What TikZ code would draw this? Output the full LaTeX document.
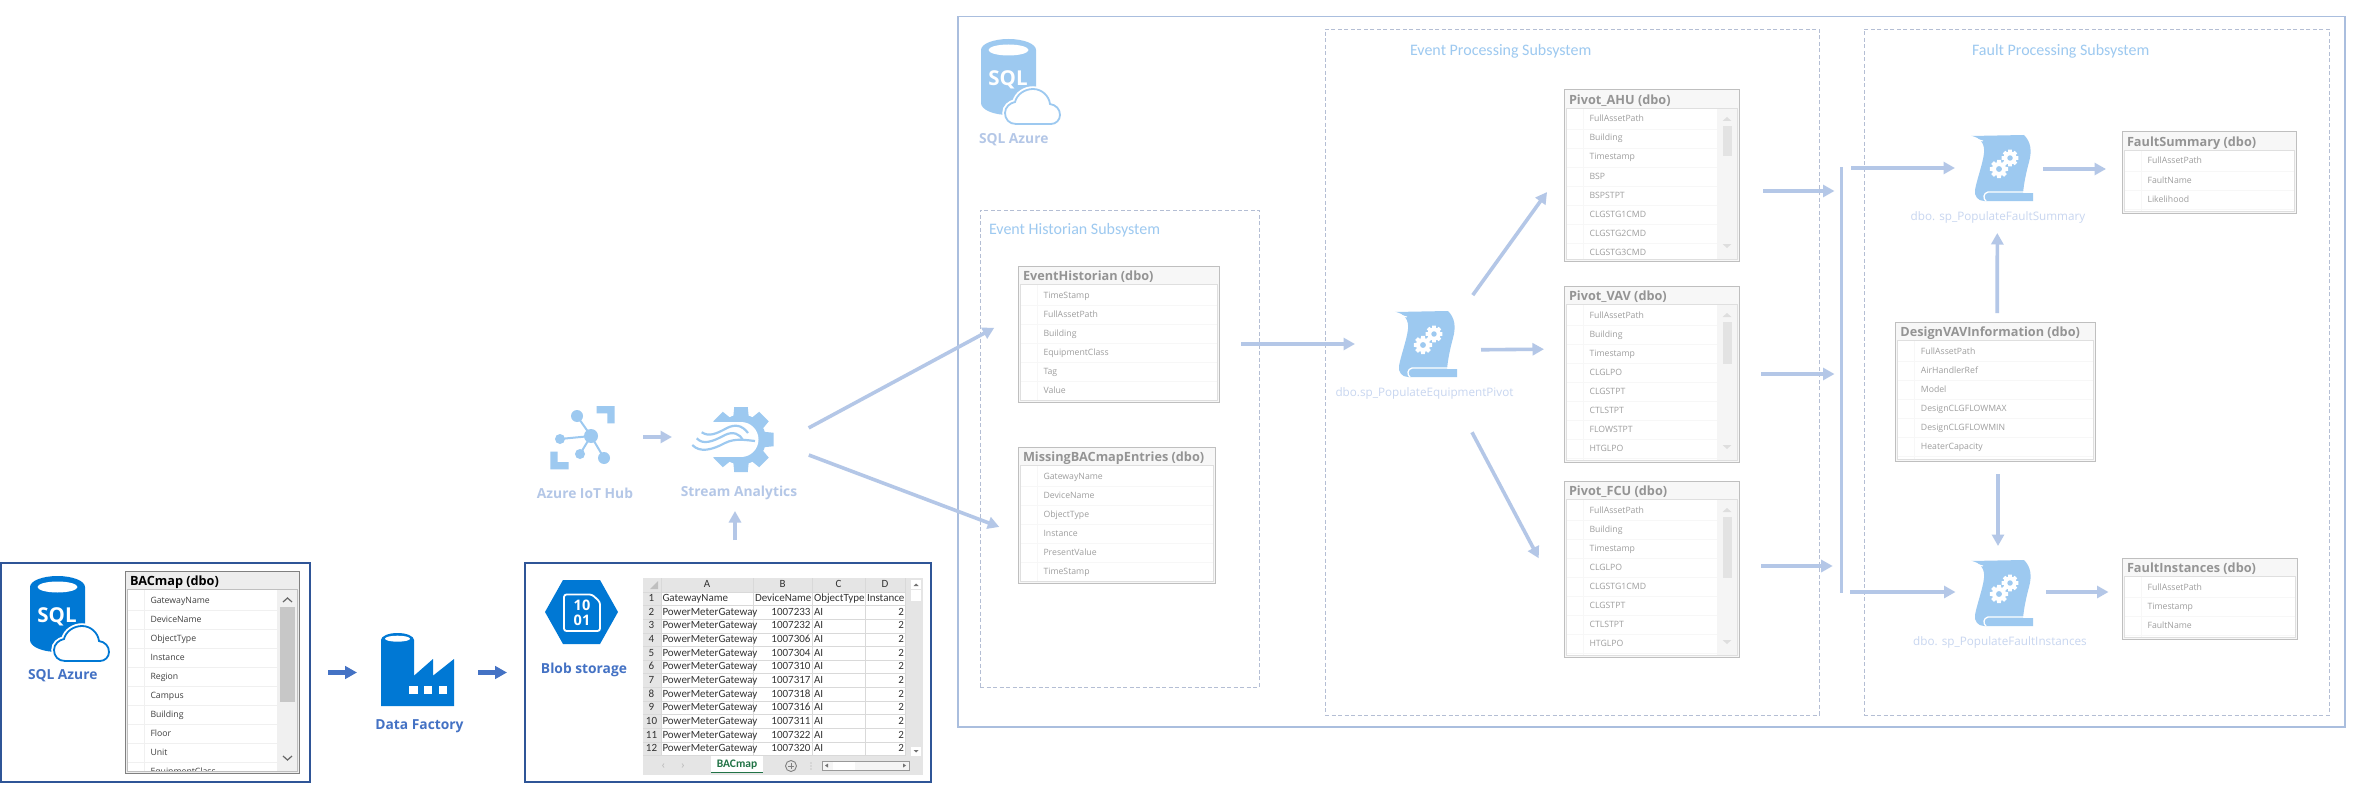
\documentclass[tikz,border=0pt]{standalone}
\usepackage{fontspec}
\setmainfont{Open Sans}
\newfontfamily\capfont{Carlito}
\usetikzlibrary{arrows.meta,positioning,calc}
\definecolor{azureBlue}{RGB}{0,120,212}
\definecolor{paleAzure}{RGB}{157,201,240}
\definecolor{strongFlow}{RGB}{68,114,196}
\definecolor{paleFlow}{RGB}{180,199,231}
\definecolor{darkEdge}{RGB}{47,85,151}
\definecolor{paleEdge}{RGB}{170,190,222}
\definecolor{dashEdge}{RGB}{180,190,212}
\definecolor{sheetGreen}{RGB}{33,115,70}
\definecolor{procText}{RGB}{200,214,240}
\colorlet{tblEdge}{black!50}
\colorlet{tblTitle}{black}
\colorlet{tblText}{black!75}
\colorlet{tblHead}{black!7}
\colorlet{tblRule}{black!6}
\colorlet{tblBar}{black!6}
\colorlet{tblThumb}{black!22}
\tikzset{
  every node/.style={inner sep=0pt,outer sep=0pt},
  flowdark/.style={draw=strongFlow,line width=4.2pt,-{Triangle[length=12pt,width=12.5pt]}},
  flowpale/.style={draw=paleFlow,line width=3.6pt,-{Triangle[length=11.5pt,width=12pt]}},
  holdbox/.style={draw=darkEdge,line width=1.1pt,fill=white},
  outerbox/.style={draw=paleEdge,line width=1.3pt},
  subsys/.style={draw=dashEdge,line width=0.9pt,dash pattern=on 4pt off 2.5pt},
  subsystitle/.style={anchor=west,text=paleAzure,font=\capfont\fontsize{16}{17}\selectfont},
  darklabel/.style={text=strongFlow,font=\bfseries\fontsize{13.8}{16}\selectfont},
  palelabel/.style={text=paleFlow,font=\bfseries\fontsize{13.8}{16}\selectfont},
  proclabel/.style={text=procText,font=\fontsize{11.7}{14}\selectfont},
  iconspot/.style={minimum width=#1pt,minimum height=#1pt},
  tableframe/.style={draw=tblEdge,line width=1pt,fill=tblHead},
  tabletitle/.style={anchor=west,text=tblTitle,font=\bfseries\fontsize{12.7}{14}\selectfont},
  tablerow/.style={anchor=west,text=tblText,text height=7pt,text depth=2pt,font=\fontsize{8.7}{11}\selectfont},
  tablerule/.style={draw=tblRule,line width=0.8pt},
  sheetcell/.style={text=black!80,text height=7.5pt,text depth=2.2pt,font=\capfont\fontsize{11}{13}\selectfont},
  sheetrule/.style={draw=black!15,line width=0.7pt},
  scrollmark/.style={draw=black!60,line width=1.2pt}
}
\newcommand{\dbtable}[7]{%
  \node[tableframe,minimum width=#4pt,minimum height=#5pt] (#1) at ({#2+#4/2},{#3+#5/2}) {};
  \node[tabletitle] (#1title) at (#2+5,#3+11) {#6};
  \fill[white] (#2+2,#3+18.5) rectangle (#2+#4-2,#3+#5-2);
  \begin{scope}
    \clip (#2+2,#3+18.5) rectangle (#2+#4-2,#3+#5-2);
    \foreach \t [count=\i] in {#7}{
      \node[tablerow] (#1row\i) at (#2+25.5,{#3+29.5+(\i-1)*19}) {\t};
      \draw[tablerule] (#2+2,{#3+39+(\i-1)*19}) -- (#2+#4-2,{#3+39+(\i-1)*19});
    }
    \draw[tablerule] (#2+19,#3+18.5) -- (#2+19,#3+#5-2);
  \end{scope}
  \draw[draw=tblEdge!50,line width=0.8pt] (#2+2,#3+18.5) rectangle (#2+#4-2,#3+#5-2);
}
% right edge, top, bottom, thumb top, thumb bottom, thumb half width
\newcommand{\tablescroll}[6]{%
  \fill[tblBar] (#1-22.5,#2+19) rectangle (#1-2.5,#3-2.5);
  \fill[tblThumb] (#1-12-#6,#4) rectangle (#1-12+#6,#5);
  \path[scrollmark] (#1-16.5,#2+31) -- (#1-12,#2+27) -- (#1-7.5,#2+31);
  \path[scrollmark] (#1-16.5,#3-17) -- (#1-12,#3-13) -- (#1-7.5,#3-17);
}
\newcommand{\gearwheel}[5]{%
  \fill[#4] (#1,#2) circle[radius=#3];
  \foreach \a in {0,45,...,315}{
    \fill[#4,rotate around={\a:(#1,#2)}] (#1-#3*.27,#2-#3*1.3) -- (#1+#3*.27,#2-#3*1.3)
      -- (#1+#3*.4,#2) -- (#1-#3*.4,#2) -- cycle;
  }
  \ifx&#5&\else\fill[#5] (#1,#2) circle[radius=#3*.42];\fi
}
\newcommand{\sqlicon}[4]{%
  \begin{scope}[shift={(#1,#2)}]
    \fill[#3] (0,11) arc[start angle=180,end angle=0,x radius=27.5,y radius=-11]
      -- (55,64) arc[start angle=0,end angle=-180,x radius=27.5,y radius=-12] -- cycle;
    \fill[white] (27.5,11) ellipse[x radius=20,y radius=5.5];
    \node[text=white,font=\bfseries\fontsize{20.5}{21}\selectfont] (#4) at (27,41) {SQL};
    \path[fill=white,draw=white,line width=5.5pt] (35,85) .. controls (28,85) and (24,80) .. (24,74) .. controls (24,68) and (29,64) .. (34,63) .. controls (36,55) and (44,50) .. (52,50) .. controls (61,50) and (68,57) .. (69,65) .. controls (75,66) and (79,70) .. (79,76) .. controls (79,81) and (75,85) .. (70,85) -- cycle;
    \draw[#3,line width=1.8pt] (35,85) .. controls (28,85) and (24,80) .. (24,74) .. controls (24,68) and (29,64) .. (34,63) .. controls (36,55) and (44,50) .. (52,50) .. controls (61,50) and (68,57) .. (69,65) .. controls (75,66) and (79,70) .. (79,76) .. controls (79,81) and (75,85) .. (70,85) -- cycle;
  \end{scope}
}
\newcommand{\procicon}[2]{%
  \begin{scope}[shift={(#1,#2)}]
    \fill[paleAzure] (0,1) -- (53,0) .. controls (60,7) and (61,16) .. (58,27) .. controls (55,38) and (53,48) .. (52,58)
      -- (62,58) -- (62,66) -- (13,66) .. controls (7,66) and (3,61) .. (4,55)
      .. controls (6,44) and (12,28) .. (13,18) .. controls (14,10) and (10,2) .. (0,1) -- cycle;
    \draw[white,line width=1pt] (0,1) .. controls (5,5) and (9,5) .. (12,6);
    \draw[white,line width=1.3pt] (62,57) -- (17,57) .. controls (12,58) and (12,64) .. (15,66);
    \gearwheel{39}{23}{6.5}{white}{paleAzure}
    \gearwheel{28}{34}{7}{white}{paleAzure}
  \end{scope}
}
\begin{document}
\begin{tikzpicture}[x=1pt,y=-1pt]
  \useasboundingbox (0,0) rectangle (2362,797);
  \fill[white] (0,0) rectangle (2362,797);

  % pale part, the frames first
  \node[outerbox,minimum width=1387pt,minimum height=710.5pt] (azureBox) at (1651.5,371.75) {};
  \node[subsys,minimum width=279pt,minimum height=477pt] (historianSys) at (1119.5,448.5) {};
  \node[subsys,minimum width=494pt,minimum height=686pt] (eventSys) at (1572,372) {};
  \node[subsys,minimum width=465pt,minimum height=686pt] (faultSys) at (2096.5,372) {};
  \node[subsystitle] (historianCap) at (989,230) {Event Historian Subsystem};
  \node[subsystitle] (eventCap) at (1410,51) {Event Processing Subsystem};
  \node[subsystitle] (faultCap) at (1972,51) {Fault Processing Subsystem};

  \sqlicon{981}{39}{paleAzure}{sqlPaleText}
  \node[palelabel,anchor=west] (sqlPaleName) at (979,140) {SQL Azure};

  % left part, dark
  \node[holdbox,minimum width=309pt,minimum height=219pt] (sqlBox) at (155.5,672.5) {};
  \sqlicon{30}{576}{azureBlue}{sqlDarkText}
  \node[darklabel,anchor=west] (sqlDarkName) at (28,676) {SQL Azure};
  \dbtable{bacMap}{125}{571}{174}{202}{BACmap (dbo)}{GatewayName,DeviceName,ObjectType,Instance,Region,Campus,Building,Floor,Unit,EquipmentClass}
  \tablescroll{299.5}{571}{773}{607}{702}{7.5}

  \node[iconspot=73,minimum height=79pt] (factory) at (417.5,672.5) {};
  \fill[azureBlue] (381,640) arc[start angle=180,end angle=0,x radius=16.5,y radius=-7] -- (414,675.7) -- (433,659) -- (433,675.7) -- (454,659) -- (454,706) -- (381,706) -- cycle;
  \fill[white] (397.5,638.7) ellipse[x radius=12.5,y radius=3];
  \foreach \x in {409.3,424,438.5}{
    \fill[white] (\x,685.7) rectangle (\x+8.4,694.3);
  }
  \node[darklabel] (factoryName) at (419.5,726) {Data Factory};

  \node[holdbox,minimum width=406pt,minimum height=219pt] (blobBox) at (728,672.5) {};
  \fill[azureBlue] (545,612) -- (563,580) -- (600,580) -- (618,612) -- (600,644) -- (563,644) -- cycle;
  \draw[white,line width=1.8pt,rounded corners=2.5pt] (564,594.5) -- (592,594.5) -- (600,602) -- (600,631) -- (564,631) -- cycle;
  \node[text=white,font=\bfseries\fontsize{14.5}{15}\selectfont] (blobTop) at (582,605) {10};
  \node[text=white,font=\bfseries\fontsize{14.5}{15}\selectfont] (blobLow) at (582,620) {01};
  \node[darklabel] (blobName) at (584,670) {Blob storage};

  % the sheet
  \fill[black!10] (643,578) rectangle (923,775);
  \fill[white] (661,591.5) rectangle (905,755.5);
  \fill[black!25] (658,581) -- (658,589) -- (650,589) -- cycle;
  \foreach \x/\c in {707/A,782.5/B,838.5/C,885/D}{
    \node[sheetcell] (sheetHead\c) at (\x,584.5) {\c};
  }
  \foreach \x in {661,753,812,865,905}{
    \draw[sheetrule] (\x,578) -- (\x,755.5);
  }
  \foreach \r in {0,...,12}{
    \draw[sheetrule] (643,{592+\r*13.64}) -- (905,{592+\r*13.64});
  }
  \node[sheetcell] (sheetNum1) at (651.5,599) {1};
  \node[sheetcell,anchor=west] (sheetGate) at (662.5,599) {GatewayName};
  \node[sheetcell,anchor=west] (sheetDev) at (755,599) {DeviceName};
  \node[sheetcell,anchor=west] (sheetObj) at (814,599) {ObjectType};
  \node[sheetcell,anchor=west] (sheetInst) at (867,599) {Instance};
  \foreach \r/\v in {2/1007233,3/1007232,4/1007306,5/1007304,6/1007310,7/1007317,8/1007318,9/1007316,10/1007311,11/1007322,12/1007320}{
    \node[sheetcell] (sheetNum\r) at (651.5,{599+(\r-1)*13.64}) {\r};
    \node[sheetcell,anchor=west] (sheetA\r) at (662.5,{599+(\r-1)*13.64}) {PowerMeterGateway};
    \node[sheetcell,anchor=east] (sheetB\r) at (810.5,{599+(\r-1)*13.64}) {\v};
    \node[sheetcell,anchor=west] (sheetC\r) at (814,{599+(\r-1)*13.64}) {AI};
    \node[sheetcell,anchor=east] (sheetD\r) at (904,{599+(\r-1)*13.64}) {2};
  }
  \draw[black!25,line width=0.7pt] (664,763.5) -- (662.5,765.5) -- (664,767.5) (682,763.5) -- (683.5,765.5) -- (682,767.5);
  \fill[white] (711,756) rectangle (763,772);
  \draw[sheetGreen,line width=1pt] (711,772) -- (763,772);
  \node[text=sheetGreen,font=\capfont\bfseries\fontsize{11.5}{13}\selectfont] (sheetTab) at (737,765) {BACmap};
  \node[draw=black!50,line width=0.9pt,circle,minimum size=11pt] (sheetPlus) at (791,766) {};
  \draw[black!50,line width=0.9pt] (788,766) -- (794,766) (791,763) -- (791,769);
  \foreach \y in {763,766,769}{
    \fill[black!35] (811,\y) circle[radius=0.6];
  }
  \fill[black!4] (822,761) rectangle (909,770);
  \draw[black!40,line width=0.6pt] (822,761) rectangle (909,770);
  \fill[white] (833,761.5) rectangle (855,769.5);
  \fill[black!55] (825,765.5) -- (828,763.5) -- (828,767.5) -- cycle;
  \fill[black!55] (906,765.5) -- (903,763.5) -- (903,767.5) -- cycle;
  \fill[white] (911,580) rectangle (921,589);
  \fill[white] (911,590) rectangle (921,601);
  \fill[white] (911,747) rectangle (921,756);
  \fill[black!55] (916,583.5) -- (913.5,586) -- (918.5,586) -- cycle;
  \fill[black!55] (916,752.5) -- (913.5,750) -- (918.5,750) -- cycle;

  % pale tables
  \colorlet{tblEdge}{black!25}
  \colorlet{tblTitle}{black!42}
  \colorlet{tblText}{black!38}
  \colorlet{tblHead}{black!3}
  \colorlet{tblRule}{black!3}
  \colorlet{tblBar}{black!4}
  \colorlet{tblThumb}{black!11}
  \tikzset{scrollmark/.style={fill=black!13}}
  \dbtable{eventHist}{1018}{266}{201}{136}{EventHistorian (dbo)}{TimeStamp,FullAssetPath,Building,EquipmentClass,Tag,Value}
  \dbtable{missingMap}{1018}{447}{197}{136}{MissingBACmapEntries (dbo)}{GatewayName,DeviceName,ObjectType,Instance,PresentValue,TimeStamp}
  \dbtable{pivotAHU}{1564}{90}{175}{171}{Pivot\_AHU (dbo)}{FullAssetPath,Building,Timestamp,BSP,BSPSTPT,CLGSTG1CMD,CLGSTG2CMD,CLGSTG3CMD}
  \tablescroll{1739}{90}{261}{126}{156}{4.5}
  \dbtable{pivotVAV}{1564}{286}{175}{176}{Pivot\_VAV (dbo)}{FullAssetPath,Building,Timestamp,CLGLPO,CLGSTPT,CTLSTPT,FLOWSTPT,HTGLPO}
  \tablescroll{1739}{286}{462}{322}{364}{4.5}
  \dbtable{pivotFCU}{1564}{481}{175}{176}{Pivot\_FCU (dbo)}{FullAssetPath,Building,Timestamp,CLGLPO,CLGSTG1CMD,CLGSTPT,CTLSTPT,HTGLPO}
  \tablescroll{1739}{481}{657}{517}{578}{4.5}
  \dbtable{faultSum}{2122}{132}{174}{81}{FaultSummary (dbo)}{FullAssetPath,FaultName,Likelihood}
  \dbtable{faultInst}{2122}{558}{175}{81}{FaultInstances (dbo)}{FullAssetPath,Timestamp,FaultName}
  \dbtable{designVAV}{1895.4}{322}{199.7}{139}{DesignVAVInformation (dbo)}{FullAssetPath,AirHandlerRef,Model,DesignCLGFLOWMAX,DesignCLGFLOWMIN,HeaterCapacity}

  % pale icons
  \node[iconspot=65] (iotHub) at (582.5,437) {};
  \draw[paleAzure,line width=2pt] (591,436) -- (577,416) (591,436) -- (560,439) (591,436) -- (580,454) (591,436) -- (604,458);
  \foreach \x/\y/\r in {591/436/7,577/416/6,560/439/5,580/454/5,604/458/6}{
    \fill[paleAzure] (\x,\y) circle[radius=\r];
  }
  \fill[paleAzure] (596.7,406) -- (614.7,406) -- (614.7,423.3) -- (607.3,423.3) -- (607.3,413.3) -- (596.7,413.3) -- cycle;
  \fill[paleAzure] (550.3,451.7) -- (557.7,451.7) -- (557.7,462) -- (568.7,462) -- (568.7,469.3) -- (550.3,469.3) -- cycle;
  \node[palelabel] (iotName) at (585,493) {Azure IoT Hub};

  \node[iconspot=70,minimum width=84pt] (streamJob) at (735,437) {};
  \gearwheel{741}{439.5}{25}{paleAzure}{}
  \fill[white] (686,422) rectangle (741,457);
  \fill[white] (741,439.5) circle[radius=17.5];
  \draw[paleAzure,line width=2.2pt] (701.7,432.3) .. controls (709,437) and (716,434) .. (727,428) .. controls (735,424) and (742,425) .. (748,433);
  \draw[paleAzure,line width=2.2pt] (696.7,438.3) .. controls (703,445) and (712,442) .. (725,435) .. controls (733,431) and (740,434) .. (743,440);
  \draw[paleAzure,line width=2.2pt] (692.3,445) .. controls (700,453) and (712,450) .. (725,443) .. controls (735,438) and (745,440) .. (755,441);
  \node[palelabel] (streamName) at (739,493) {Stream Analytics};

  \node[iconspot=66,minimum width=62pt] (procPivot) at (1426,344) {};
  \procicon{1395}{311}
  \node[proclabel] (procPivotName) at (1424.5,393) {dbo.sp\_PopulateEquipmentPivot};
  \node[iconspot=66,minimum width=61pt] (procSummary) at (2002,168) {};
  \procicon{1971}{135}
  \node[proclabel] (procSummaryName) at (1998,217) {dbo. sp\_PopulateFaultSummary};
  \node[iconspot=66,minimum width=61pt] (procInstances) at (2002,592) {};
  \procicon{1971}{560}
  \node[proclabel] (procInstancesName) at (2000,642) {dbo. sp\_PopulateFaultInstances};

  \node[fill=paleFlow,minimum width=3pt,minimum height=426pt] (faultBus) at (1841,380) {};

  % connectors
  \draw[flowdark,shorten <=18pt,shorten >=24pt] (sqlBox.east) -- (factory.west);
  \draw[flowdark,shorten <=24pt,shorten >=18pt] (factory.east) -- (blobBox.west);
  \draw[flowpale,shorten <=23pt,shorten >=39pt] (blobBox.north -| streamJob.south) -- (streamJob.south);
  \draw[flowpale,shorten <=28pt,shorten >=21pt] (iotHub.east) -- (streamJob.west);
  \draw[flowpale,shorten <=36pt,shorten >=27pt] ([yshift=-8pt]streamJob.east) -- ([yshift=19pt]eventHist.west);
  \draw[flowpale,shorten <=34pt,shorten >=20pt] ([yshift=-6pt]streamJob.east) -- ([yshift=-19pt]missingMap.west);
  \draw[flowpale,shorten <=22pt,shorten >=40pt] ([yshift=-10pt]eventHist.east) -- (procPivot.west);
  \draw[flowpale,shorten <=27pt,shorten >=29pt] ([yshift=27pt]procPivot.east) -- ([yshift=7pt]pivotAHU.west);
  \draw[flowpale,shorten <=24pt,shorten >=20pt] ([yshift=-6pt]procPivot.east) -- ([yshift=25pt]pivotVAV.west);
  \draw[flowpale,shorten <=32pt,shorten >=54pt] ([yshift=-60pt]procPivot.east) -- ([yshift=-37pt]pivotFCU.west);
  \draw[flowpale,shorten <=24pt,shorten >=5pt] ([yshift=-15.5pt]pivotAHU.east) -- ([yshift=189pt]faultBus.west);
  \draw[flowpale,shorten <=22pt,shorten >=5pt] (pivotVAV.east) -- ([yshift=6pt]faultBus.west);
  \draw[flowpale,shorten <=22pt,shorten >=6.8pt] ([yshift=3pt]pivotFCU.east) -- ([yshift=-186pt]faultBus.west);
  \draw[flowpale,shorten <=8.5pt,shorten >=16.5pt] ([yshift=212pt]faultBus.east) -- (procSummary.west);
  \draw[flowpale,shorten <=7.5pt,shorten >=16pt] ([yshift=-212pt]faultBus.east) -- (procInstances.west);
  \draw[flowpale,shorten <=10.5pt,shorten >=16pt] ([yshift=-1pt]procSummary.east) -- ([yshift=3.5pt]faultSum.west);
  \draw[flowpale,shorten <=13.5pt,shorten >=13.5pt] (procInstances.east) -- ([yshift=6.5pt]faultInst.west);
  \draw[flowpale,shorten <=9pt,shorten >=32pt] ([xshift=2pt]designVAV.north) -- ([xshift=-4.7pt]procSummary.south);
  \draw[flowpale,shorten <=13pt,shorten >=13pt] ([xshift=2.75pt]designVAV.south) -- ([xshift=-4pt]procInstances.north);
\end{tikzpicture}
\end{document}
